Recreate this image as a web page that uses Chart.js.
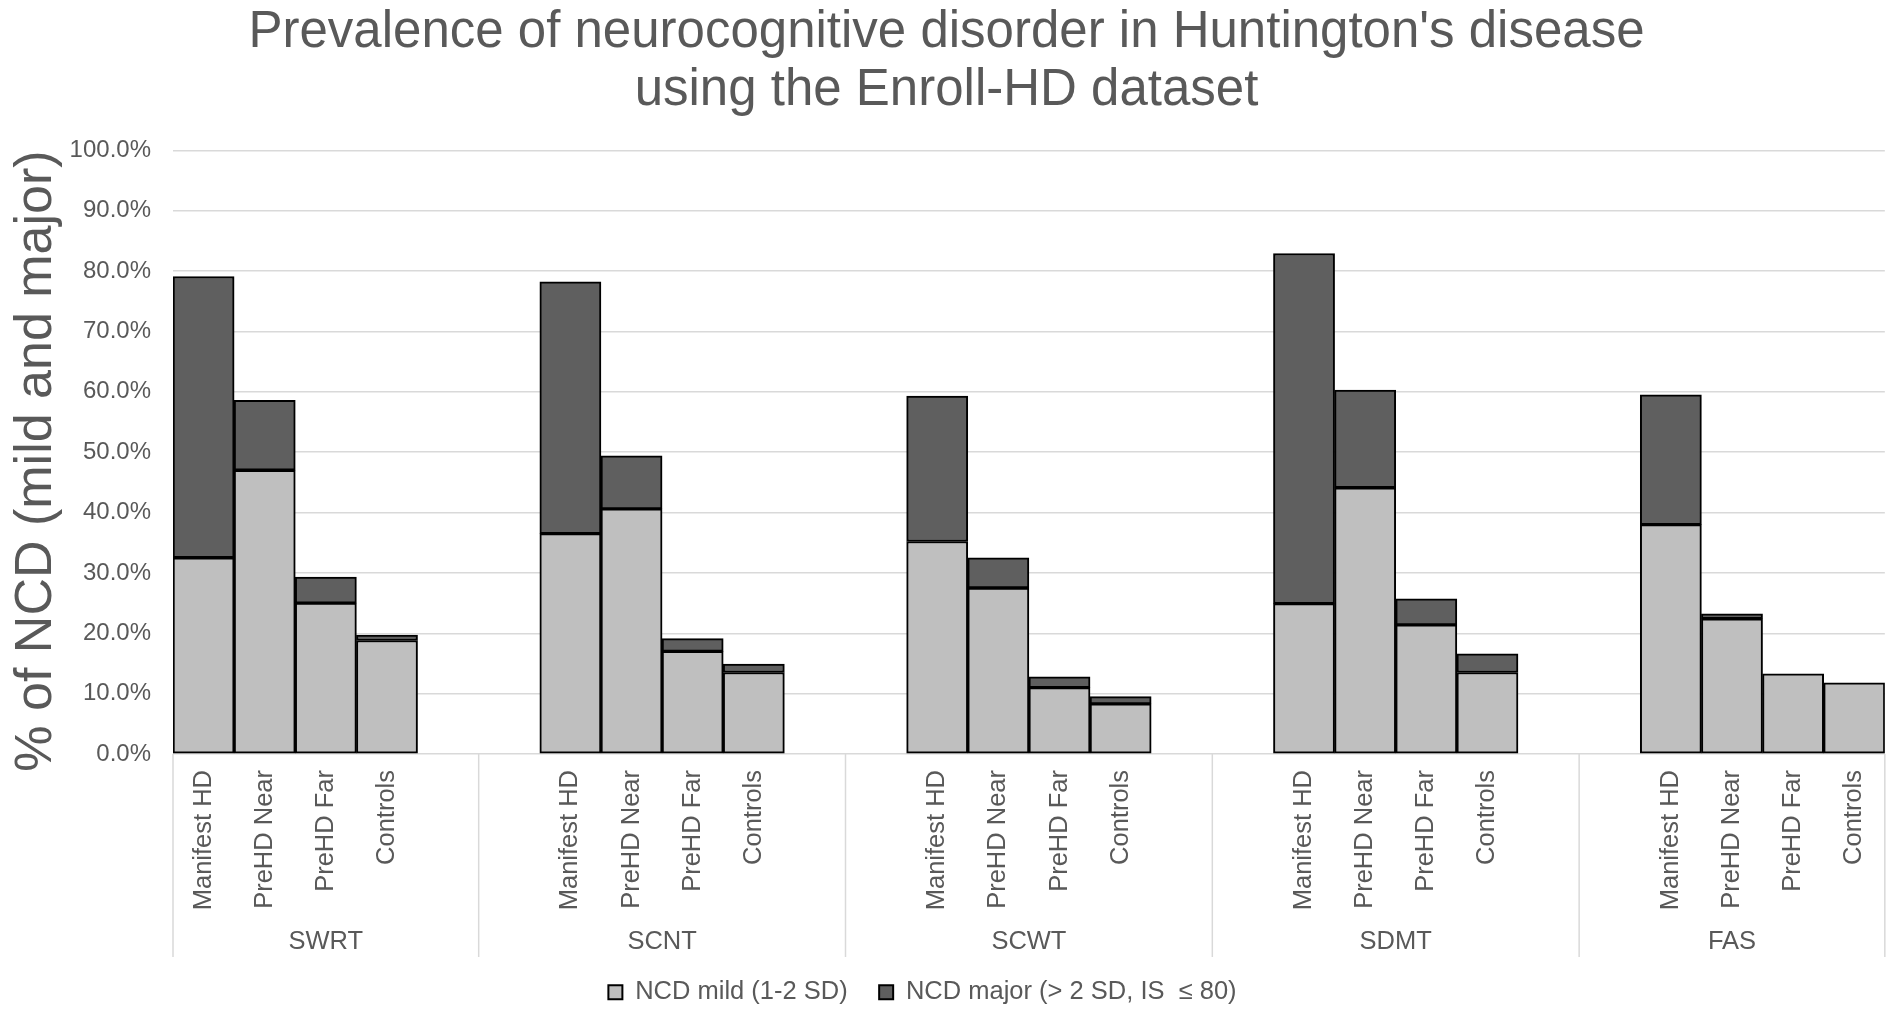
<!DOCTYPE html>
<html>
<head>
<meta charset="utf-8">
<title>Prevalence of neurocognitive disorder in Huntington's disease</title>
<script src="https://cdn.jsdelivr.net/npm/chart.js@4.4.1/dist/chart.umd.min.js"></script>
<style>
  html, body { margin: 0; padding: 0; background: #fff; }
  #wrap { width: 1901px; height: 1015px; position: relative; }
</style>
</head>
<body>
<div id="wrap"><canvas id="ncdChart"></canvas></div>
<script>
// outer groups (tests) and the bars inside each group
const tests = ['SWRT', 'SCNT', 'SCWT', 'SDMT', 'FAS'];
const cohorts = ['Manifest HD', 'PreHD Near', 'PreHD Far', 'Controls'];

// % of NCD mild (1-2 SD), cohorts in the order above, test by test
const mildPct = [
  32.5, 47.0, 25.0, 18.8,   // SWRT
  36.5, 40.6, 17.0, 13.5,   // SCNT
  35.2, 27.5, 11.0, 8.3,    // SCWT
  24.9, 44.1, 21.4, 13.5,   // SDMT
  38.0, 22.4, 13.3, 11.8    // FAS
];

// % of NCD major (> 2 SD, IS <= 80), stacked on top of mild
const majorPct = [
  46.6, 11.6, 4.3, 0.9,     // SWRT
  41.7, 8.8, 2.1, 1.4,      // SCNT
  24.1, 5.0, 1.8, 1.2,      // SCWT
  58.0, 16.2, 4.3, 3.1,     // SDMT
  21.5, 0.8, 0.0, 0.0       // FAS
];

const seriesNames = ['NCD mild (1-2 SD)', 'NCD major (> 2 SD, IS  \u2264 80)'];
const yTitle = '% of NCD (mild and major)';

const TEXT = '#595959';
const FONT = '"Liberation Sans", Arial, sans-serif';

// Excel leaves two empty slots between groups -> build the slot list
const labels = [];
const mildData = [];
const majorData = [];
tests.forEach((t, g) => {
    cohorts.forEach((c, i) => {
        labels.push(c);
        mildData.push(mildPct[g * 4 + i]);
        majorData.push(majorPct[g * 4 + i]);
    });
    if (g < tests.length - 1) {
        labels.push('', '');
        mildData.push(null, null);
        majorData.push(null, null);
    }
});

// group names + separator lines under the axis, y title, legend nudge
const groupAxis = {
    id: 'groupAxis',
    afterUpdate(chart) {
        // legend in the original sits left of the page centre
        const lg = chart.legend;
        lg.left -= 24;
        lg.right -= 24;
        if (lg.adjustHitBoxes) lg.adjustHitBoxes();
    },
    afterDraw(chart) {
        const x = chart.scales.x;
        const ctx = chart.ctx;
        const slot = x.getPixelForValue(1) - x.getPixelForValue(0);
        const y0 = chart.chartArea.bottom;
        const y1 = y0 + 203;
        const edges = [x.getPixelForValue(0) - slot / 2];
        tests.forEach((t, g) => {
            if (g < tests.length - 1) edges.push(x.getPixelForValue(g * 6 + 5) - slot / 2);
        });
        edges.push(x.getPixelForValue(labels.length - 1) + slot / 2);

        ctx.save();
        ctx.strokeStyle = '#d9d9d9';
        ctx.lineWidth = 1.5;
        edges.forEach(e => {
            ctx.beginPath();
            ctx.moveTo(e, y0);
            ctx.lineTo(e, y1);
            ctx.stroke();
        });
        ctx.fillStyle = TEXT;
        ctx.font = '25.5px ' + FONT;
        ctx.textAlign = 'center';
        ctx.textBaseline = 'middle';
        tests.forEach((t, g) => {
            ctx.fillText(t, (edges[g] + edges[g + 1]) / 2, y0 + 188);
        });

        // axis title, a little lower than the plot centre like the original
        ctx.font = '52px ' + FONT;
        ctx.translate(37, 461);
        ctx.rotate(-Math.PI / 2);
        ctx.fillText(yTitle, 0, 0);
        ctx.restore();
    }
};

const ctx = document.getElementById('ncdChart').getContext('2d');
new Chart(ctx, {
    type: 'bar',
    data: {
        labels: labels,
        datasets: [{
            label: seriesNames[0],
            data: mildData,
            backgroundColor: '#bfbfbf',
            borderColor: '#000000',
            borderWidth: 2,
            borderSkipped: false
        }, {
            label: seriesNames[1],
            data: majorData,
            backgroundColor: '#5f5f5f',
            borderColor: '#000000',
            borderWidth: 2,
            borderSkipped: false
        }]
    },
    options: {
        responsive: true,
        maintainAspectRatio: false,
        animation: false,
        layout: { padding: { left: 0, right: 8, top: 0, bottom: 0 } },
        datasets: { bar: { categoryPercentage: 1.0, barPercentage: 1.0 } },
        plugins: {
            title: {
                display: true,
                text: ["Prevalence of neurocognitive disorder in Huntington's disease", 'using the Enroll-HD dataset'],
                color: TEXT,
                font: { family: FONT, size: 51, weight: 'normal', lineHeight: 1.14 },
                padding: { top: 4, bottom: 30 }
            },
            legend: {
                position: 'bottom',
                labels: {
                    color: TEXT,
                    font: { family: FONT, size: 25.5 },
                    boxWidth: 14,
                    boxHeight: 14,
                    padding: 31.5
                }
            },
            tooltip: { enabled: false }
        },
        scales: {
            x: {
                stacked: true,
                grid: { display: false, drawTicks: false },
                border: { display: false },
                ticks: {
                    autoSkip: false,
                    minRotation: 90,
                    maxRotation: 90,
                    padding: 16,
                    color: TEXT,
                    font: { family: FONT, size: 25.5 }
                },
                afterFit(scale) { scale.height = 194; }
            },
            y: {
                stacked: true,
                min: 0,
                max: 100,
                grid: { color: '#d9d9d9', lineWidth: 1.5, drawTicks: false },
                border: { display: false },
                ticks: {
                    stepSize: 10,
                    padding: 22,
                    color: TEXT,
                    font: { family: FONT, size: 24 },
                    callback: v => v.toFixed(1) + '%'
                },
                afterFit(scale) { scale.width = 173; }
            }
        }
    },
    plugins: [groupAxis]
});
</script>
</body>
</html>
